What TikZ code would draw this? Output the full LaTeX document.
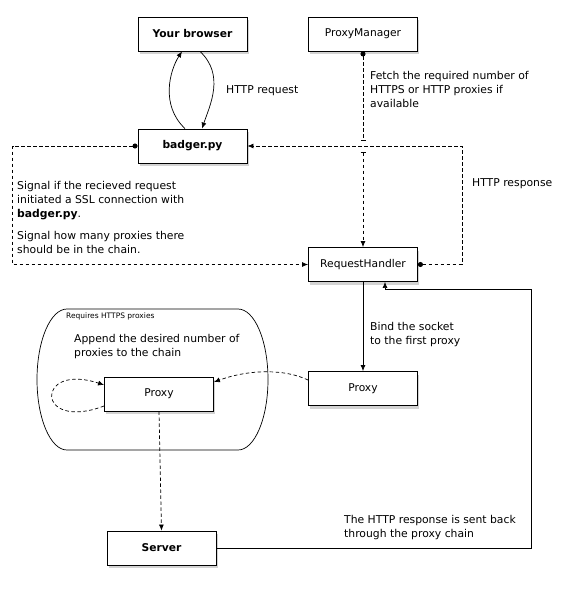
\documentclass[tikz,border=0pt]{standalone}
\usepackage{fontspec}
\setmainfont{DejaVu Sans}
\usepackage{tikz}
\usetikzlibrary{arrows.meta,shadows}

\begin{document}
\begin{tikzpicture}[x=1pt, y=-1pt,
    box/.style={draw, fill=white, line width=0.9pt, minimum width=109pt, minimum height=34pt, inner sep=0pt,
        font=\fontsize{10.7}{14}\selectfont,
        drop shadow={opacity=0.35, shadow xshift=1.5pt, shadow yshift=-3pt}},
    txt/.style={anchor=north west, inner sep=0pt, align=left, font=\fontsize{10.8}{14}\selectfont},
    dline/.style={line width=0.7pt, dash pattern=on 3.5pt off 2.5pt},
    sline/.style={line width=0.7pt},
    tip/.style={-{Latex[length=6pt,width=5pt]}},
    dottip/.style={{Circle[length=5pt]}-{Latex[length=6pt,width=5pt]}}]

    \useasboundingbox (0,0) rectangle (563,590);

    % Region for the HTTPS proxies
    \draw[line width=0.7pt] (67,309) -- (238,309)
        .. controls (254.6,309) and (268,340.6) .. (268,379.5)
        .. controls (268,418.4) and (254.6,450) .. (238,450)
        -- (67,450)
        .. controls (50.4,450) and (37,418.4) .. (37,379.5)
        .. controls (37,340.6) and (50.4,309) .. (67,309);
    \node[txt, font=\fontsize{7.5}{9}\selectfont] (requires) at (66,313) {Requires HTTPS proxies};
    \node[txt] (append) at (74,334) {Append the desired number of\\proxies to the chain};

    % Boxes
    \node[box, font=\fontsize{10.7}{14}\selectfont\bfseries] (browser) at (192.5,34) {Your browser};
    \node[box] (pmanager) at (363,34) {ProxyManager};
    \node[box, font=\fontsize{10.7}{14}\selectfont\bfseries] (badger) at (192.5,146) {badger.py};
    \node[box] (rhandler) at (363,264.5) {RequestHandler};
    \node[box] (proxyA) at (363,388.5) {Proxy};
    \node[box] (proxyB) at (159,394) {Proxy};
    \node[box, font=\fontsize{10.7}{14}\selectfont\bfseries] (server) at (161.5,548) {Server};

    % Browser and badger.py
    \draw[sline, tip] ([xshift=-7.5pt]badger.north) .. controls (160,105) and (170,70) .. ([xshift=-10.5pt]browser.south);
    \draw[sline, tip] ([xshift=7.5pt]browser.south) .. controls (225,75) and (210,105) .. ([xshift=9.5pt]badger.north);
    \node[txt] (request) at (226,85) {HTTP request};

    % ProxyManager to RequestHandler, hopping over the response line
    \coordinate (hopa) at (363,141);
    \coordinate (hopb) at (363,152);
    \draw[dline, {Circle[length=5pt]}-{Bar[width=5pt]}] (pmanager.south) -- (hopa);
    \draw[dline, {Bar[width=5pt]}-{Latex[length=6pt,width=5pt]}] (hopb) -- (rhandler.north);
    \node[txt] (fetch) at (370,71) {Fetch the required number of\\HTTPS or HTTP proxies if\\available};

    % Response back to badger.py
    \draw[dline, dottip] (rhandler.east) -- ++(44,0) |- (badger.east);
    \node[txt] (response) at (472,178) {HTTP response};

    % Signal from badger.py
    \draw[dline, dottip] (badger.west) -- ++(-125,0) |- (rhandler.west);
    \node[txt] (signala) at (17,181) {Signal if the recieved request\\initiated a SSL connection with\\\textbf{badger.py}.};
    \node[txt] (signalb) at (17,231) {Signal how many proxies there\\should be in the chain.};

    % Socket to the first proxy
    \draw[sline, tip] (rhandler.south) -- (proxyA.north);
    \node[txt] (bind) at (370,322) {Bind the socket\\to the first proxy};

    % Chain of proxies
    \draw[dline, tip] ([yshift=8.5pt]proxyA.west) .. controls (285,369) and (250,369) .. ([yshift=12pt]proxyB.east);
    \draw[dline, tip] ([yshift=-12pt]proxyB.west) .. controls (35,432) and (35,362) .. ([yshift=9pt]proxyB.west);
    \draw[dline, tip] (proxyB.south) -- (server.north);

    % Response through the chain
    \coordinate (turn) at (531,289);
    \draw[sline, tip] (server.east) -| (turn) -| ([xshift=22pt]rhandler.south);
    \node[txt] (back) at (344,515) {The HTTP response is sent back\\through the proxy chain};
\end{tikzpicture}
\end{document}
